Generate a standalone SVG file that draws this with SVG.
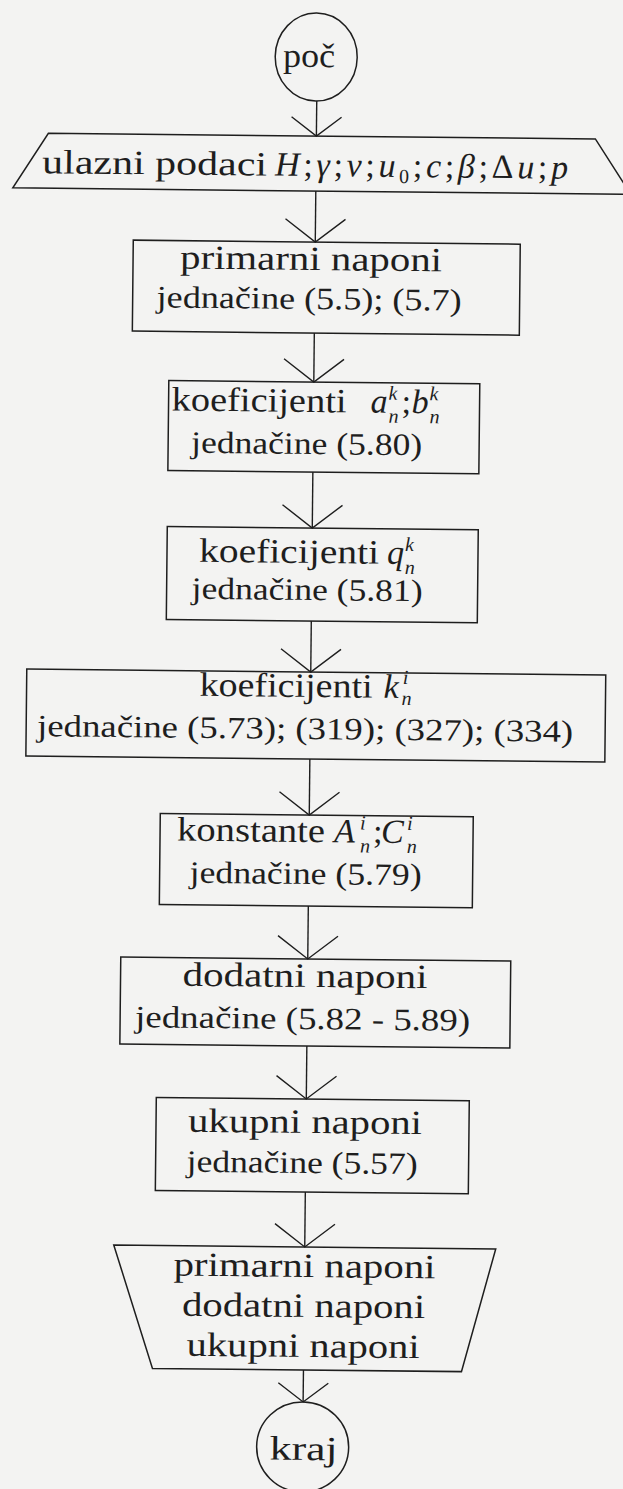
<svg xmlns="http://www.w3.org/2000/svg" width="623" height="1489" viewBox="0 0 623 1489">
<style>
.bg{fill:#f3f3f2}
.sh{fill:none;stroke:#1e1e1e;stroke-width:1.5}
.cn{fill:none;stroke:#1e1e1e;stroke-width:1.4}
text{font-family:"Liberation Serif","DejaVu Serif",serif;fill:#1e1e1e}
.l1{font-size:34px}
.l2{font-size:31px}
.mi{font-style:italic}
.up{font-style:normal}
.sc{font-size:20px}
</style>
<defs>
<marker id="v" markerUnits="userSpaceOnUse" viewBox="-26 -33 28 66" refX="0" refY="0" markerWidth="28" markerHeight="66" orient="auto" style="overflow:visible">
<path d="M-23,-30 L0,0 L-23,30" fill="none" stroke="#1e1e1e" stroke-width="1.4"/>
</marker>
<marker id="vs" markerUnits="userSpaceOnUse" viewBox="-22 -28 24 56" refX="0" refY="0" markerWidth="24" markerHeight="56" orient="auto" style="overflow:visible">
<path d="M-19,-25 L0,0 L-19,25" fill="none" stroke="#1e1e1e" stroke-width="1.4"/>
</marker>
</defs>
<rect class="bg" x="0" y="0" width="623" height="1489"/>
<g transform="rotate(0.6 310 745)">
<g id="connectors">
<line class="cn" x1="310" y1="101" x2="310" y2="136" marker-end="url(#vs)"/>
<line class="cn" x1="310" y1="191" x2="310" y2="242" marker-end="url(#v)"/>
<line class="cn" x1="310" y1="333" x2="310" y2="382" marker-end="url(#v)"/>
<line class="cn" x1="310" y1="472" x2="310" y2="528" marker-end="url(#v)"/>
<line class="cn" x1="310" y1="621" x2="310" y2="672" marker-end="url(#v)"/>
<line class="cn" x1="310" y1="759" x2="310" y2="815" marker-end="url(#v)"/>
<line class="cn" x1="310" y1="906" x2="310" y2="959" marker-end="url(#v)"/>
<line class="cn" x1="310" y1="1046" x2="310" y2="1099" marker-end="url(#v)"/>
<line class="cn" x1="310" y1="1192" x2="310" y2="1247" marker-end="url(#v)"/>
<line class="cn" x1="310" y1="1370" x2="310" y2="1402" marker-end="url(#vs)"/>
</g>
<g id="n-start">
<ellipse class="sh" cx="309" cy="57" rx="41" ry="44"/>
<text class="l1" x="276" y="67" textLength="52" lengthAdjust="spacingAndGlyphs">poč</text>
</g>
<g id="n-input">
<polygon class="sh" points="42,136 589,136 625,191 7,191"/>
<text class="l1" x="36" y="176" textLength="225" lengthAdjust="spacingAndGlyphs">ulazni podaci</text>
<text class="l1" x="269" y="176" textLength="293" lengthAdjust="spacing"><tspan class="mi">H</tspan>;<tspan class="mi">γ</tspan>;<tspan class="mi">ν</tspan>;<tspan class="mi">u</tspan><tspan class="sc" dy="6">0</tspan><tspan dy="-6">;</tspan><tspan class="mi">c</tspan>;<tspan class="mi">β</tspan>;Δ<tspan class="mi">u</tspan>;<tspan class="mi">p</tspan></text>
</g>
<g id="n-primarni">
<rect class="sh" x="128" y="242" width="387" height="91"/>
<text class="l1" x="175" y="270" textLength="262" lengthAdjust="spacingAndGlyphs">primarni naponi</text>
<text class="l2" x="152" y="309" textLength="305" lengthAdjust="spacingAndGlyphs">jednačine (5.5); (5.7)</text>
</g>
<g id="n-ab">
<rect class="sh" x="165" y="382" width="311" height="90"/>
<text class="l1" x="168" y="412" textLength="175" lengthAdjust="spacingAndGlyphs">koeficijenti</text>
<text class="l1 mi" y="412"><tspan x="367">a</tspan><tspan class="sc" x="385" dy="-13">k</tspan><tspan class="sc" x="385" dy="23">n</tspan><tspan class="up" x="398" dy="-10">;</tspan><tspan x="408">b</tspan><tspan class="sc" x="426" dy="-13">k</tspan><tspan class="sc" x="426" dy="23">n</tspan></text>
<text class="l2" x="188" y="454" textLength="231" lengthAdjust="spacingAndGlyphs">jednačine (5.80)</text>
</g>
<g id="n-q">
<rect class="sh" x="165" y="528" width="311" height="93"/>
<text class="l1" x="197" y="563" textLength="180" lengthAdjust="spacingAndGlyphs">koeficijenti</text>
<text class="l1 mi" y="563"><tspan x="385">q</tspan><tspan class="sc" x="403" dy="-13">k</tspan><tspan class="sc" x="403" dy="23">n</tspan></text>
<text class="l2" x="190" y="600" textLength="231" lengthAdjust="spacingAndGlyphs">jednačine (5.81)</text>
</g>
<g id="n-k">
<rect class="sh" x="26" y="672" width="579" height="87"/>
<text class="l1" x="199" y="697" textLength="173" lengthAdjust="spacingAndGlyphs">koeficijenti</text>
<text class="l1 mi" y="697"><tspan x="383">k</tspan><tspan class="sc" x="402" dy="-14">i</tspan><tspan class="sc" x="401" dy="21">n</tspan></text>
<text class="l2" x="37" y="739" textLength="536" lengthAdjust="spacingAndGlyphs">jednačine (5.73); (319); (327); (334)</text>
</g>
<g id="n-konst">
<rect class="sh" x="161" y="815" width="313" height="91"/>
<text class="l1" x="178" y="842" textLength="148" lengthAdjust="spacingAndGlyphs">konstante</text>
<text class="l1 mi" y="842"><tspan x="335">A</tspan><tspan class="sc" x="361" dy="-13">i</tspan><tspan class="sc" x="361" dy="23">n</tspan><tspan class="up" x="374" dy="-10">;</tspan><tspan x="382">C</tspan><tspan class="sc" x="408" dy="-13">i</tspan><tspan class="sc" x="408" dy="23">n</tspan></text>
<text class="l2" x="191" y="884" textLength="232" lengthAdjust="spacingAndGlyphs">jednačine (5.79)</text>
</g>
<g id="n-dodatni">
<rect class="sh" x="123" y="959" width="390" height="87"/>
<text class="l1" x="185" y="987" textLength="245" lengthAdjust="spacingAndGlyphs">dodatni naponi</text>
<text class="l2" x="138" y="1029" textLength="335" lengthAdjust="spacingAndGlyphs">jednačine (5.82 - 5.89)</text>
</g>
<g id="n-ukupni">
<rect class="sh" x="160" y="1099" width="313" height="93"/>
<text class="l1" x="192" y="1133" textLength="234" lengthAdjust="spacingAndGlyphs">ukupni naponi</text>
<text class="l2" x="191" y="1173" textLength="231" lengthAdjust="spacingAndGlyphs">jednačine (5.57)</text>
</g>
<g id="n-output">
<polygon class="sh" points="119,1247 501,1247 468,1370 159,1370"/>
<text class="l1" x="179" y="1277" textLength="262" lengthAdjust="spacingAndGlyphs">primarni naponi</text>
<text class="l1" x="188" y="1317" textLength="243" lengthAdjust="spacingAndGlyphs">dodatni naponi</text>
<text class="l1" x="193" y="1357" textLength="233" lengthAdjust="spacingAndGlyphs">ukupni naponi</text>
</g>
<g id="n-end">
<ellipse class="sh" cx="310" cy="1447" rx="46" ry="45"/>
<text class="l1" x="277" y="1460" textLength="68" lengthAdjust="spacingAndGlyphs">kraj</text>
</g>
</g>
</svg>
